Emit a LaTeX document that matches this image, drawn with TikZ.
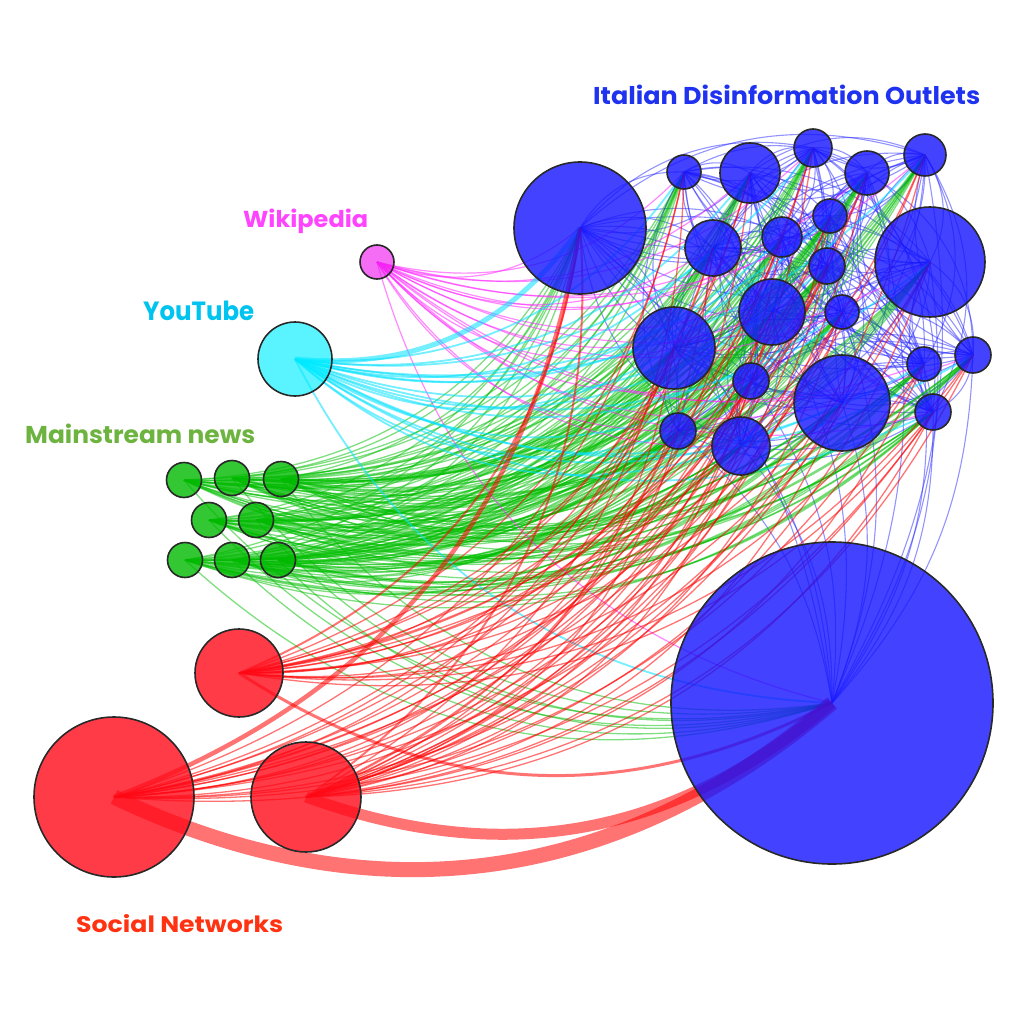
\documentclass[tikz,border=0pt]{standalone}
\usepackage{fontspec}
\setmainfont{Poppins}
\pgfdeclarelayer{edges}
\pgfsetlayers{edges,main}
\definecolor{cB}{RGB}{20,20,255}
\definecolor{cR}{RGB}{255,10,25}
\definecolor{cG}{RGB}{0,185,0}
\definecolor{cC}{RGB}{0,238,255}
\definecolor{cM}{RGB}{240,30,240}
\definecolor{eB}{RGB}{40,40,255}
\definecolor{eR}{RGB}{255,0,0}
\definecolor{eG}{RGB}{0,190,0}
\definecolor{eC}{RGB}{0,225,255}
\definecolor{eM}{RGB}{255,40,255}
\definecolor{lB}{RGB}{30,50,240}
\definecolor{lM}{RGB}{255,68,255}
\definecolor{lC}{RGB}{0,196,240}
\definecolor{lG}{RGB}{109,179,63}
\definecolor{lR}{RGB}{255,51,17}
\definecolor{rim}{RGB}{40,40,40}
\tikzset{
  nd/.style={circle, draw=rim, line width=1.6pt, inner sep=0pt, outer sep=0pt},
  bnd/.style={nd, fill=cB, fill opacity=0.8},
  rnd/.style={nd, fill=cR, fill opacity=0.8},
  gnd/.style={nd, fill=cG, fill opacity=0.8},
  cnd/.style={nd, fill=cC, fill opacity=0.65},
  mnd/.style={nd, fill=cM, fill opacity=0.65},
  bedge/.style={draw=eB, line width=1.1pt, opacity=0.5},
  gedge/.style={draw=eG, line width=1.3pt, opacity=0.5},
  redge/.style={draw=eR, line width=1.3pt, opacity=0.55},
  cedge/.style={draw=eC, line width=1.8pt, opacity=0.55},
  medge/.style={draw=eM, line width=1.2pt, opacity=0.55},
  lab/.style={inner sep=0pt, anchor=base west, font=\bfseries}
}
\begin{document}
\begin{tikzpicture}[x=1pt,y=-1pt]
\useasboundingbox (0,0) rectangle (1024,1024);
% blue outlets
\foreach \n/\x/\y/\r in {b1/580/228/66, b2/684/172/17, b3/750/173/30, b4/813/148/19,
  b5/867/173/22, b6/925/155/21, b7/830/216/17, b8/713/248/28, b9/782/237/20,
  b10/827/266/18, b11/930/262/55, b12/772/312/33, b13/842/312/17, b14/674/348/41,
  b15/751/381/18, b16/842/403/48, b17/924/364/17, b18/973/355/18, b19/933/412/18,
  b20/678/431/18, b21/741/446/29, b22/832/703/161}
  \node[bnd, minimum size=2*\r pt] (\n) at (\x,\y) {};
% mainstream news
\foreach \n/\x/\y in {g1/184/480, g2/232/478, g3/281/479, g4/209/520, g5/256/520,
  g6/185/560, g7/232/560, g8/278/560}
  \node[gnd, minimum size=35pt] (\n) at (\x,\y) {};
% social networks
\node[rnd, minimum size=88pt] (r1) at (239,673) {};
\node[rnd, minimum size=160pt] (r2) at (114,797) {};
\node[rnd, minimum size=110pt] (r3) at (306,797) {};
% youtube, wikipedia
\node[cnd, minimum size=74pt] (yt) at (295,359) {};
\node[mnd, minimum size=34pt] (wp) at (377,262) {};
% labels
\node[lab, text=lB] (l1) at (593,104.5) {\resizebox{387pt}{19.5pt}{Italian Disinformation Outlets}};
\node[lab, text=lM] (l2) at (243,227) {\resizebox{125pt}{18.5pt}{Wikipedia}};
\node[lab, text=lC] (l3) at (143,320.5) {\resizebox{111pt}{19.5pt}{YouTube}};
\node[lab, text=lG] (l4) at (25,443) {\resizebox{230pt}{19.5pt}{Mainstream news}};
\node[lab, text=lR] (l5) at (76,932) {\resizebox{207pt}{18pt}{Social Networks}};
\begin{pgfonlayer}{edges}
% blue-blue
\foreach \i in {1,...,20}{
  \pgfmathtruncatemacro\jst{\i+1}
  \foreach \j in {\jst,...,21}{
    \pgfmathtruncatemacro\pp{mod(\i+\j,2)}
    \ifnum\pp=0
      \draw[bedge] (b\i.center) to[bend right=30] (b\j.center);
    \else
      \draw[bedge] (b\j.center) to[bend right=30] (b\i.center);
    \fi
  }
}
\foreach \t in {b1,b11,b12,b13,b14,b15,b16,b17,b18,b19,b20,b21,b6,b5}
  \draw[bedge] (b22.center) to[bend right=20] (\t.center);
% green
\foreach \s in {g1,g2,g3,g4,g5,g6,g7,g8}
  \foreach \t in {b1,b2,b3,b4,b5,b6,b7,b8,b9,b10,b11,b12,b13,b14,b15,b16,b17,b18,b19,b20,b21,b22}
    \draw[gedge] (\s.center) to[bend right=30] (\t.center);
% wikipedia
\foreach \t in {b1,b2,b3,b4,b5,b6,b7,b8,b9,b10,b11,b12,b13,b14,b15,b16,b17,b18,b19,b20,b21,b22}
  \draw[medge] (wp.center) to[bend right=30] (\t.center);
% youtube
\foreach \t in {b2,b3,b4,b5,b6,b7,b8,b9,b10,b11,b12,b13,b14,b15,b16,b17,b18,b19,b20,b21,b22}
  \draw[cedge] (yt.center) to[bend right=30] (\t.center);
\draw[cedge, line width=5pt] (yt.center) to[bend right=30] (b1.center);
% social
\foreach \s in {r1,r2,r3}
  \foreach \t in {b2,b3,b4,b5,b6,b7,b8,b9,b10,b11,b12,b13,b14,b15,b16,b17,b18,b19,b20,b21}
    \draw[redge] (\s.center) to[bend right=30] (\t.center);
\draw[redge, line width=4.5pt] (r2.center) to[bend right=30] (b1.center);
\draw[redge, line width=2pt] (r1.center) to[bend right=30] (b1.center);
\draw[redge, line width=2pt] (r3.center) to[bend right=30] (b1.center);
\draw[redge, line width=3pt] (r1.center) to[bend right=30] (b22.center);
\draw[redge, line width=15pt] (r2.center) to[bend right=33] (b22.center);
\draw[redge, line width=11pt] (r3.center) to[bend right=30] (b22.center);
\end{pgfonlayer}
\end{tikzpicture}
\end{document}
